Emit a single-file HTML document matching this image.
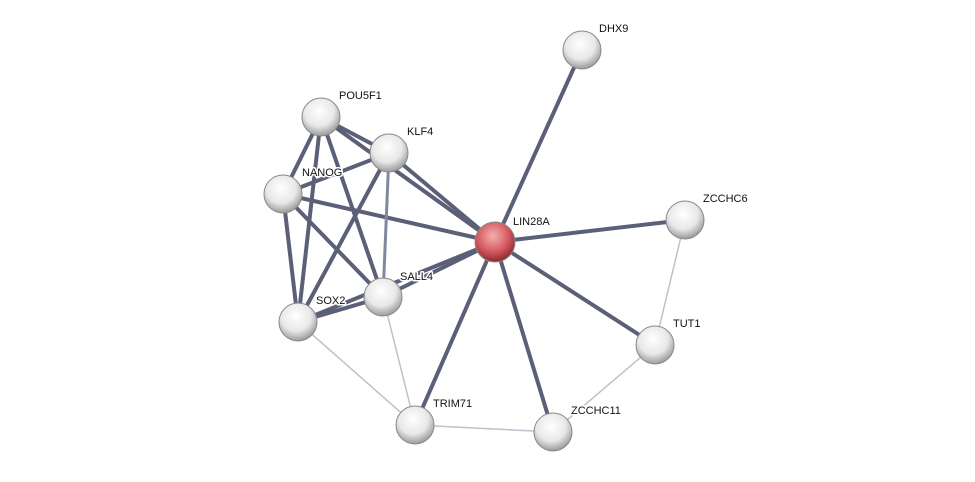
<!DOCTYPE html>
<html><head><meta charset="utf-8"><style>
html,body{margin:0;padding:0;background:#fff;}
svg text{font-family:"Liberation Sans",sans-serif;font-size:11px;fill:#111;paint-order:stroke;stroke:#fff;stroke-width:3px;stroke-linejoin:round;}
</style></head><body>
<svg width="975" height="477" viewBox="0 0 975 477" xmlns="http://www.w3.org/2000/svg">
<defs>
<radialGradient id="g" cx="45%" cy="35%" r="65%">
<stop offset="0" stop-color="#ffffff"/><stop offset="0.6" stop-color="#e8e8e8"/><stop offset="1" stop-color="#9a9a9a"/>
</radialGradient>
<radialGradient id="r" cx="45%" cy="35%" r="65%">
<stop offset="0" stop-color="#f4b0b0"/><stop offset="0.6" stop-color="#d65a5f"/><stop offset="1" stop-color="#8a2a30"/>
</radialGradient>
</defs>
<g stroke="#5b6078" stroke-width="4" stroke-linecap="round">
<line x1="495" y1="242" x2="582" y2="50"/>
<line x1="495" y1="242" x2="685" y2="220"/>
<line x1="495" y1="242" x2="655" y2="345"/>
<line x1="495" y1="242" x2="553" y2="432"/>
<line x1="495" y1="242" x2="415" y2="425"/>
<line x1="495" y1="242" x2="383" y2="297"/>
<line x1="495" y1="242" x2="298" y2="322"/>
<line x1="495" y1="242" x2="389" y2="153"/>
<line x1="495" y1="242" x2="321" y2="117"/>
<line x1="495" y1="242" x2="283" y2="194"/>
<line x1="321" y1="117" x2="389" y2="153"/>
<line x1="321" y1="117" x2="283" y2="194"/>
<line x1="321" y1="117" x2="298" y2="322"/>
<line x1="321" y1="117" x2="383" y2="297"/>
<line x1="389" y1="153" x2="283" y2="194"/>
<line x1="389" y1="153" x2="298" y2="322"/>
<line x1="283" y1="194" x2="298" y2="322"/>
<line x1="283" y1="194" x2="383" y2="297"/>
<line x1="298" y1="322" x2="383" y2="297"/>
</g>
<line x1="389" y1="153" x2="383" y2="297" stroke="#8088a0" stroke-width="3"/>
<g stroke="#c0c0cc" stroke-width="1.5">
<line x1="685" y1="220" x2="655" y2="345"/>
<line x1="655" y1="345" x2="553" y2="432"/>
<line x1="553" y1="432" x2="415" y2="425"/>
<line x1="415" y1="425" x2="298" y2="322"/>
<line x1="415" y1="425" x2="383" y2="297"/>
</g>
<g stroke="#888" stroke-width="1">
<circle cx="582" cy="50" r="19" fill="url(#g)"/>
<circle cx="321" cy="117" r="19" fill="url(#g)"/>
<circle cx="389" cy="153" r="19" fill="url(#g)"/>
<circle cx="283" cy="194" r="19" fill="url(#g)"/>
<circle cx="495" cy="242" r="20" fill="url(#r)"/>
<circle cx="685" cy="220" r="19" fill="url(#g)"/>
<circle cx="383" cy="297" r="19" fill="url(#g)"/>
<circle cx="298" cy="322" r="19" fill="url(#g)"/>
<circle cx="655" cy="345" r="19" fill="url(#g)"/>
<circle cx="415" cy="425" r="19" fill="url(#g)"/>
<circle cx="553" cy="432" r="19" fill="url(#g)"/>
</g>
<text x="599" y="32">DHX9</text>
<text x="339" y="99">POU5F1</text>
<text x="407" y="135">KLF4</text>
<text x="302" y="176">NANOG</text>
<text x="513" y="225">LIN28A</text>
<text x="703" y="202">ZCCHC6</text>
<text x="400" y="280">SALL4</text>
<text x="316" y="304">SOX2</text>
<text x="673" y="327">TUT1</text>
<text x="433" y="407">TRIM71</text>
<text x="571" y="414">ZCCHC11</text>
</svg>
</body></html>
